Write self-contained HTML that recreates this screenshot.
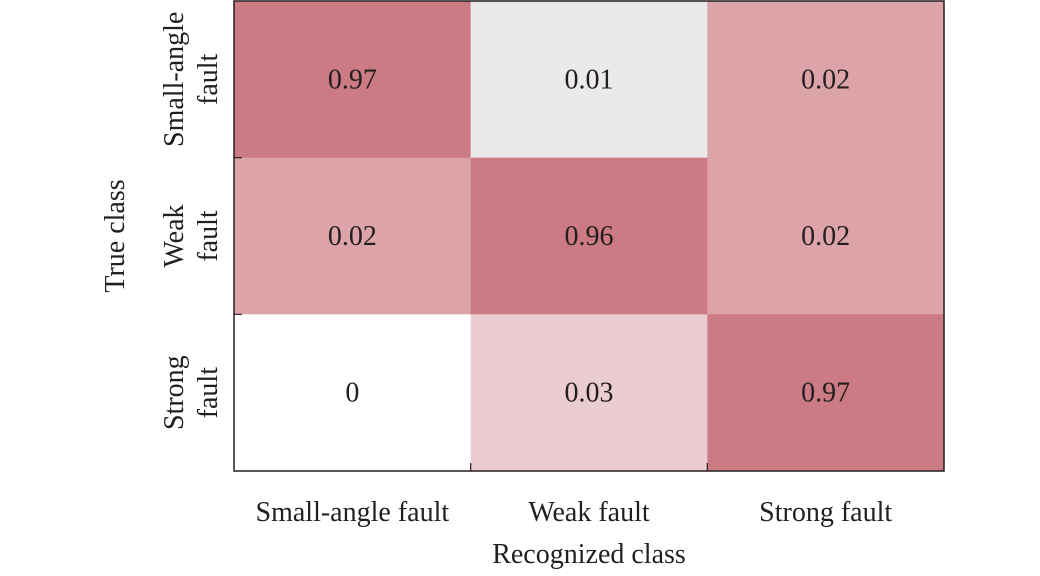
<!DOCTYPE html>
<html><head><meta charset="utf-8"><style>
html,body{margin:0;padding:0;background:#fff;width:1040px;height:576px;overflow:hidden}
text{font-family:"Liberation Serif",serif;fill:#231f20}
</style></head><body>
<svg id="chart" width="1040" height="576"></svg>
<script>
const classes=["Small-angle fault","Weak fault","Strong fault"];
const rowLabels=[["Small-angle","fault"],["Weak","fault"],["Strong","fault"]];
const values=[[0.97,0.01,0.02],[0.02,0.96,0.02],[0,0.03,0.97]];
const colorLevels={"0":"#ffffff","0.01":"#ecE9ea","0.02":"#dca3a9","0.03":"#ebcdd1"};
const svg=document.getElementById('chart');
const NS='http://www.w3.org/2000/svg';
const L=234,R=944,T=1,B=471;
const cw=(R-L)/classes.length, ch=(B-T)/values.length;
const xPos=i=>L+i*cw, yPos=j=>T+j*ch;
function color(v){
  const k=String(v); if(colorLevels[k]) return colorLevels[k];
  if(v>=0.5) return "#cc7b84";
  const t=Math.min(1,v/0.05); const a=[255,255,255],b=[220,163,169];
  return `rgb(${a.map((x,i)=>Math.round(x+(b[i]-x)*t)).join(',')})`;
}
function mk(tag,attrs,txt){const e=document.createElementNS(NS,tag);for(const k in attrs)e.setAttribute(k,attrs[k]);if(txt!==undefined)e.textContent=txt;svg.appendChild(e);return e;}
values.forEach((row,j)=>row.forEach((v,i)=>{
  const r=mk('rect',{x:xPos(i),y:yPos(j),width:cw+0.5,height:ch+0.5,fill:color(v)});
  
  
  const t=mk('text',{x:xPos(i)+cw/2,y:yPos(j)+ch/2+9,'text-anchor':'middle','font-size':28},String(v));
  
  
}));
const ax=mk('path',{d:`M${L},${T} H${R} V${B} H${L} Z`,fill:'none',stroke:'#231f20','stroke-width':1.5});


for(let i=1;i<classes.length;i++){
  const tk=mk('path',{d:`M${xPos(i)},${B} v-8 M${L},${yPos(i)} h8`,stroke:'#231f20','stroke-width':1.2});
  
  
}
classes.forEach((c,i)=>{
  const t=mk('text',{x:xPos(i)+cw/2,y:521,'text-anchor':'middle','font-size':28},c);
  
  
});
rowLabels.forEach((lines,j)=>{
  const cy=yPos(j)+ch/2;
  const g=document.createElementNS(NS,'text');
  g.setAttribute('transform',`translate(0,${cy}) rotate(-90)`);
  g.setAttribute('text-anchor','middle');g.setAttribute('font-size',28);
  
  
  lines.forEach((ln,k)=>{const s=document.createElementNS(NS,'tspan');s.setAttribute('x',0);s.setAttribute('y',k===0?183:217);s.textContent=ln;g.appendChild(s);});
  svg.appendChild(g);
});
const xt=mk('text',{x:589,y:563,'text-anchor':'middle','font-size':28},'Recognized class');


const yt=mk('text',{transform:'translate(124,236) rotate(-90)','text-anchor':'middle','font-size':28},'True class');


</script>
</body></html>
